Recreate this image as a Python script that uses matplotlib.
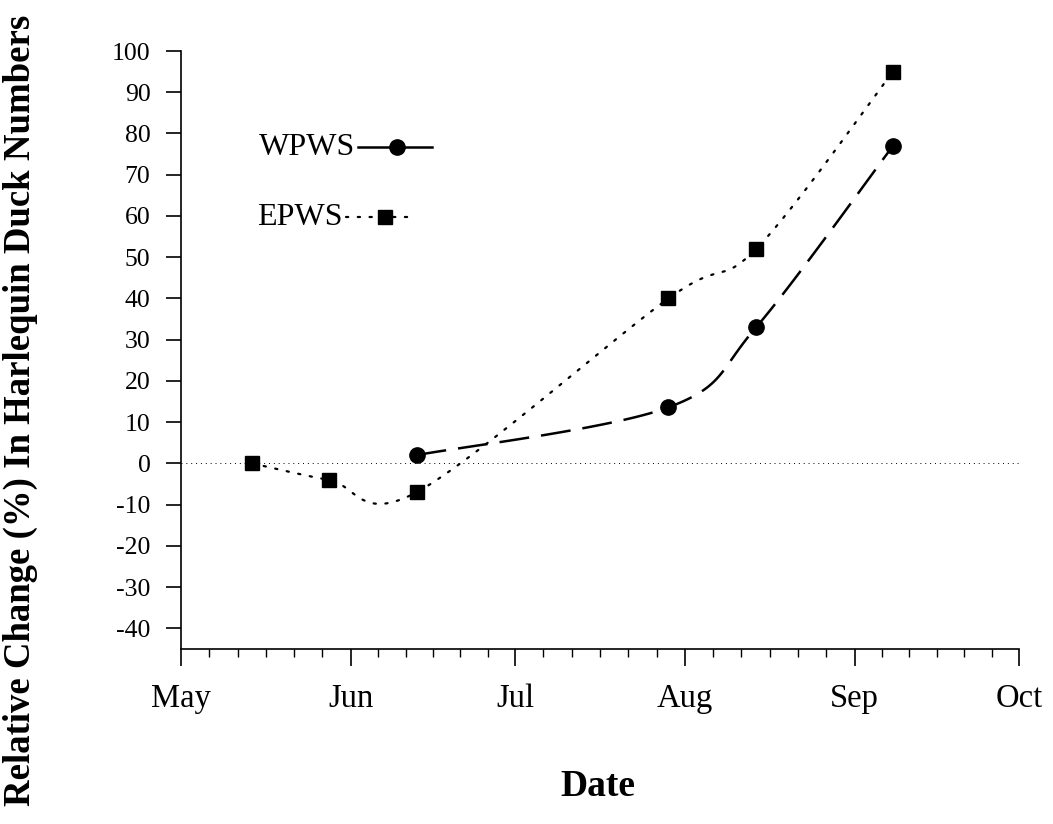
import numpy as np
import pandas as pd
import matplotlib
matplotlib.use("Agg")
import matplotlib.pyplot as plt

plt.rcParams['font.family'] = ['Liberation Serif', 'DejaVu Serif']
plt.rcParams['axes.unicode_minus'] = False

# survey dates and relative change (%)
wpws_dates = ["1995-06-13", "1995-07-29", "1995-08-14", "1995-09-08"]
wpws_values = [2, 13.6, 33, 77]
epws_dates = ["1995-05-14", "1995-05-28", "1995-06-13", "1995-07-29", "1995-08-14", "1995-09-08"]
epws_values = [0, -4, -7, 40, 52, 95]

month_labels = ["May", "Jun", "Jul", "Aug", "Sep", "Oct"]
month_starts = ["1995-05-01", "1995-06-01", "1995-07-01", "1995-08-01", "1995-09-01", "1995-10-01"]
y_ticks = list(range(-40, 101, 10))

origin = pd.Timestamp("1995-05-01")


def to_days(dates):
    return np.array([(pd.Timestamp(d) - origin).days for d in dates], dtype=float)


def smooth(x, y, sx, sy, n=40):
    # excel-like smoothed line: bezier segments with catmull-rom control points
    p = np.column_stack([np.asarray(x) * sx, np.asarray(y) * sy])
    pts = []
    for i in range(len(p) - 1):
        p0 = p[i - 1] if i > 0 else p[i]
        p1, p2 = p[i], p[i + 1]
        p3 = p[i + 2] if i + 2 < len(p) else p[i + 1]
        c1 = p1 + (p2 - p0) / 6
        c2 = p2 - (p3 - p1) / 6
        t = np.linspace(0, 1, n)[:, None]
        seg = (1 - t) ** 3 * p1 + 3 * (1 - t) ** 2 * t * c1 + 3 * (1 - t) * t ** 2 * c2 + t ** 3 * p2
        pts.append(seg if i == 0 else seg[1:])
    pts = np.vstack(pts)
    return pts[:, 0] / sx, pts[:, 1] / sy


fig = plt.figure(figsize=(10.53, 8.24), dpi=100)
ax = fig.add_axes([0.1719, 0.2124, 0.7958, 0.7257])

xm = to_days(month_starts)
x_lo, x_hi = xm[0], xm[-1]
y_lo, y_hi = -45, 100
ax.set_xlim(x_lo, x_hi)
ax.set_ylim(y_lo, y_hi)

# display scale so the spline is built in screen-like units
sx = 838 / (x_hi - x_lo)
sy = 598 / (y_hi - y_lo)

# zero reference line
ax.axhline(0, color='black', lw=0.7, linestyle=(0, (1, 4)), zorder=1)

xw, yw = to_days(wpws_dates), np.array(wpws_values)
xe, ye = to_days(epws_dates), np.array(epws_values)

cx, cy = smooth(xe, ye, sx, sy)
ax.plot(cx, cy, color='black', lw=1.6, linestyle=(0, (1, 4.3)), dash_capstyle='round', zorder=2)
ax.plot(xe, ye, 's', color='black', ms=9.5, zorder=3)

cx, cy = smooth(xw, yw, sx, sy)
ax.plot(cx, cy, color='black', lw=1.8, linestyle=(0, (12, 4.8)), zorder=2)
ax.plot(xw, yw, 'o', color='black', ms=11, zorder=3)

# axes styling
for s in ['top', 'right']:
    ax.spines[s].set_visible(False)
for s in ['left', 'bottom']:
    ax.spines[s].set_linewidth(1.2)

ax.set_yticks(y_ticks)
ax.set_yticklabels([str(v) for v in y_ticks])
ax.tick_params(axis='y', direction='out', length=11, width=1.2, pad=11, labelsize=18.5)

ax.set_xticks(xm)
ax.set_xticklabels(month_labels)
minor = []
for a, b in zip(xm[:-1], xm[1:]):
    minor += list(a + (b - a) * np.arange(1, 6) / 6)
ax.set_xticks(minor, minor=True)
ax.tick_params(axis='x', which='major', direction='out', length=12, width=1.2, pad=13, labelsize=23.5)
ax.tick_params(axis='x', which='minor', direction='out', length=6, width=1.0)

# legend drawn by hand: label text first, then line and marker
ax.text(0.2076, 0.839, "WPWS", transform=ax.transAxes, ha='right', va='center', fontsize=23)
ax.plot([0.211, 0.300], [0.839, 0.839], color='black', lw=1.8, transform=ax.transAxes, clip_on=False)
ax.plot([0.258], [0.839], 'o', color='black', ms=11, transform=ax.transAxes, clip_on=False)
ax.text(0.193, 0.722, "EPWS", transform=ax.transAxes, ha='right', va='center', fontsize=23)
ax.plot([0.197, 0.278], [0.722, 0.722], color='black', lw=1.6, linestyle=(0, (1, 4.3)),
        dash_capstyle='round', transform=ax.transAxes, clip_on=False)
ax.plot([0.243], [0.722], 's', color='black', ms=9.5, transform=ax.transAxes, clip_on=False)

fig.text(598 / 1053, 1 - 787 / 824, "Date", ha='center', va='center', fontsize=27, fontweight='bold')
fig.text(20 / 1053, 1 - 410 / 824, "Relative Change (%) In Harlequin Duck Numbers",
         rotation=90, ha='center', va='center', fontsize=26.5, fontweight='bold')

fig.savefig("out.png", dpi=100)
